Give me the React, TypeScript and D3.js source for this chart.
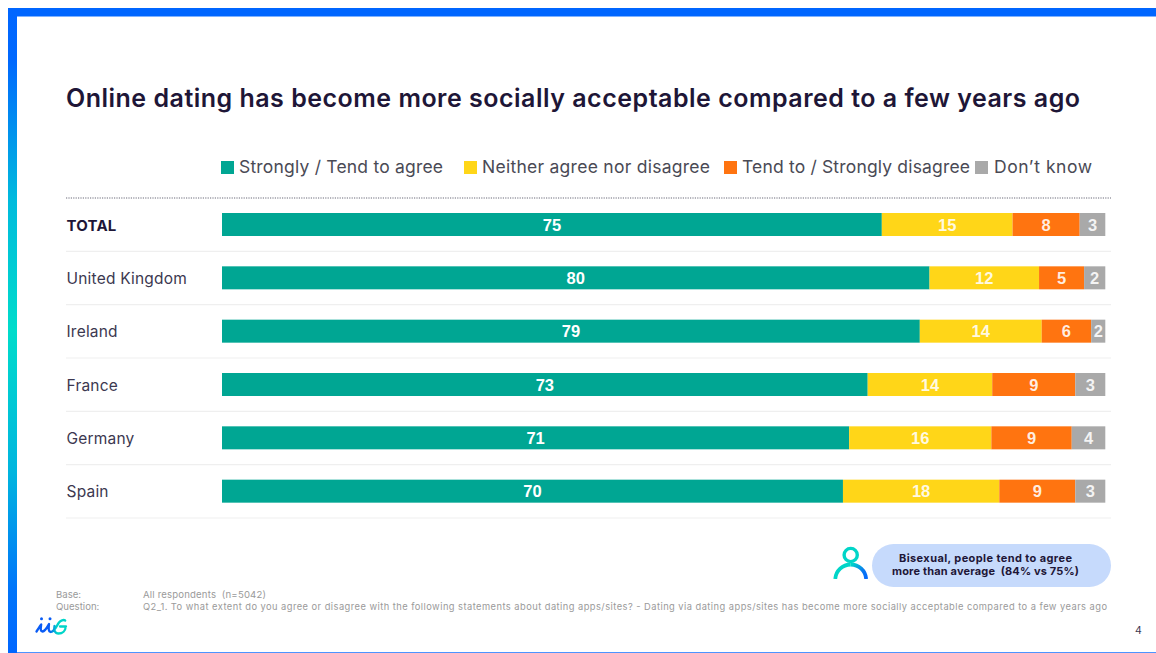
import React from "react";
import * as d3 from "d3";

const WIDTH = 1156;
const HEIGHT = 653;

// Survey results, one list per country, in answer order
const rowNames = ["TOTAL", "United Kingdom", "Ireland", "France", "Germany", "Spain"];
const agree = [74.7, 80.1, 79.0, 73.1, 71.0, 70.3];
const neither = [14.8, 12.4, 13.8, 14.1, 16.1, 17.7];
const disagree = [7.6, 5.1, 5.6, 9.4, 9.1, 8.6];
const dontKnow = [2.9, 2.4, 1.6, 3.4, 3.8, 3.4];

const seriesKeys = ["agree", "neither", "disagree", "dontKnow"];
const seriesLabels = ["Strongly / Tend to agree", "Neither agree nor disagree", "Tend to / Strongly disagree", "Don\u2019t know"];
const seriesColors = ["#00A693", "#FFD618", "#FF7410", "#A9A9A9"];

const titleText = "Online dating has become more socially acceptable compared to a few years ago";
const calloutLines = ["Bisexual, people tend to agree", "more than average  (84% vs 75%)"];
const baseText = "All respondents  (n=5042)";
const questionText =
  "Q2_1. To what extent do you agree or disagree with the following statements about dating apps/sites? - Dating via dating apps/sites has become more socially acceptable compared to a few years ago";

const UI_FONT = "Inter, 'Open Sans', sans-serif";
const VALUE_FONT = "'Liberation Sans', Arial, sans-serif";
const INK = "#1E1637";

// Legend swatch and label extents along the header row
const legendLayout = [
  { swatch: 221, text: 239, width: 204 },
  { swatch: 464, text: 482, width: 228 },
  { swatch: 724, text: 742, width: 228 },
  { swatch: 975, text: 994, width: 98 },
];

// Rendered widths of the two callout lines
const calloutWidths = [173, 187];

const tableRows = rowNames.map((name, i) => ({
  name,
  agree: agree[i],
  neither: neither[i],
  disagree: disagree[i],
  dontKnow: dontKnow[i],
}));

export default function App() {
  const x = d3.scaleLinear().domain([0, 100]).range([222, 1105.3]);
  const y = d3.scaleBand().domain(rowNames).range([198, 518]);
  const stacked = d3.stack().keys(seriesKeys)(tableRows as any);
  const barOffset = 15;
  const barHeight = 23;

  const shoulder = d3.arc();
  const bodyArc = (start: number, end: number) =>
    shoulder({ innerRadius: 15.5, outerRadius: 15.5, startAngle: start, endAngle: end }) as string;

  return (
    <svg
      width={WIDTH}
      height={HEIGHT}
      viewBox={`0 0 ${WIDTH} ${HEIGHT}`}
      style={{ position: "absolute", left: 0, top: 0, display: "block", background: "#fff" }}
    >
      <defs>
        <linearGradient id="edge" x1="0" y1="0" x2="0" y2="1">
          <stop offset="0" stopColor="#0066FF" />
          <stop offset="0.08" stopColor="#0068FE" />
          <stop offset="0.3" stopColor="#00BBDD" />
          <stop offset="0.5" stopColor="#00DCCB" />
          <stop offset="0.72" stopColor="#00B5DF" />
          <stop offset="0.9" stopColor="#0075FA" />
          <stop offset="1" stopColor="#0066FF" />
        </linearGradient>
        <linearGradient id="logoStroke" gradientUnits="userSpaceOnUse" x1="36" y1="0" x2="66" y2="0">
          <stop offset="0" stopColor="#0A5CF5" />
          <stop offset="0.45" stopColor="#0A5CF5" />
          <stop offset="0.7" stopColor="#00D5C8" />
          <stop offset="1" stopColor="#00D5C8" />
        </linearGradient>
        <linearGradient id="shoulderRight" gradientUnits="userSpaceOnUse" x1="0" y1="-15" x2="15" y2="0">
          <stop offset="0" stopColor="#00D5C8" />
          <stop offset="0.6" stopColor="#0A78F0" />
          <stop offset="1" stopColor="#0066FF" />
        </linearGradient>
      </defs>

      {/* Slide frame */}
      <rect x={8} y={8} width={WIDTH - 8} height={8.5} fill="#0066FF" />
      <rect x={8} y={8} width={9} height={HEIGHT - 8} fill="url(#edge)" />
      <rect x={17} y={652} width={WIDTH - 17} height={1} fill="#4D94FF" />

      <text x={66} y={107} fontFamily={UI_FONT} fontSize={25} fontWeight={600} fill={INK} textLength={1014} lengthAdjust="spacing">
        {titleText}
      </text>

      {/* Legend */}
      {seriesLabels.map((label, i) => (
        <g key={label}>
          <rect x={legendLayout[i].swatch} y={161} width={13} height={13} fill={seriesColors[i]} />
          <text x={legendLayout[i].text} y={173} fontFamily={UI_FONT} fontSize={17.5} fill="#4A4A55" textLength={legendLayout[i].width} lengthAdjust="spacing">
            {label}
          </text>
        </g>
      ))}

      {/* Header rule and row separators */}
      <line x1={66} x2={1111} y1={198} y2={198} stroke="#6A6A78" strokeWidth={1.2} strokeDasharray="1.2 1.2" />
      {rowNames.map((name) => (
        <line key={name} x1={66} x2={1111} y1={y(name)! + y.bandwidth()} y2={y(name)! + y.bandwidth()} stroke="#EFEFEF" strokeWidth={1.2} />
      ))}

      {/* Row labels */}
      {rowNames.map((name, i) => (
        <text
          key={name}
          x={66.5}
          y={y(name)! + barOffset + barHeight / 2 + 6}
          fontFamily={UI_FONT}
          fontSize={i === 0 ? 15 : 15.5}
          fontWeight={i === 0 ? 700 : 400}
          letterSpacing={0.2}
          fill={i === 0 ? INK : "#3C3850"}
        >
          {name}
        </text>
      ))}

      {/* Stacked bars with rounded value labels */}
      {stacked.map((layer, s) => (
        <g key={layer.key}>
          {layer.map((seg, r) => (
            <g key={rowNames[r]}>
              <rect
                x={x(seg[0])}
                y={y(rowNames[r])! + barOffset}
                width={x(seg[1]) - x(seg[0])}
                height={barHeight}
                fill={seriesColors[s]}
              />
              <text
                x={(x(seg[0]) + x(seg[1])) / 2}
                y={y(rowNames[r])! + barOffset + barHeight / 2 + 6}
                textAnchor="middle"
                fontFamily={VALUE_FONT}
                fontSize={16.5}
                fontWeight={700}
                fill="#FFFFFF"
                fillOpacity={s === 0 ? 1 : 0.88}
              >
                {d3.format(".0f")(seg[1] - seg[0])}
              </text>
            </g>
          ))}
        </g>
      ))}

      {/* Callout with person icon */}
      <circle cx={850.7} cy={555} r={6.6} fill="none" stroke="#00D5C8" strokeWidth={3.4} />
      <g transform="translate(850.7,580)" fill="none" strokeWidth={3.8} strokeLinecap="round">
        <path d={bodyArc(-1.5, 0)} stroke="#00D5C8" />
        <path d={bodyArc(0, 1.5)} stroke="url(#shoulderRight)" />
      </g>
      <rect x={872} y={544} width={239} height={43} rx={21.5} fill="#C6DAFC" />
      {calloutLines.map((line, i) => (
        <text
          key={line}
          x={985.5 - calloutWidths[i] / 2}
          y={562 + i * 13}
          fontFamily={UI_FONT}
          fontSize={11}
          fontWeight={700}
          fill={INK}
          xmlSpace="preserve"
          textLength={calloutWidths[i]}
          lengthAdjust="spacing"
        >
          {line}
        </text>
      ))}

      {/* Footnotes */}
      <g fontFamily={UI_FONT} fontSize={9.6} fill="#9A9A9A">
        <text x={56} y={598}>Base:</text>
        <text x={56} y={609.5}>Question:</text>
        <text x={143} y={598} xmlSpace="preserve" textLength={123} lengthAdjust="spacing">{baseText}</text>
        <text x={143} y={609.5} fontSize={9.3} textLength={964} lengthAdjust="spacing">{questionText}</text>
      </g>

      {/* Brand mark */}
      <g fill="none" stroke="url(#logoStroke)" strokeWidth={2.3} strokeLinecap="round" strokeLinejoin="round">
        <path d="M36.5 631.5 C38.5 628.5 40 626 41.2 624.5 C40.8 627.5 40 631.5 42.5 631.5 C45.5 631 47.5 626.5 49 624 C48.6 627.5 48 632 51 632 C55 631 56.5 626 59 622.5 C60.5 620.5 63.5 619.3 65.2 620.5 M66 626.5 L60 626.5 M65.8 626.5 C65.5 630.8 62.5 633.5 58.5 633.5 C55 633.5 53.5 630 54.5 626" />
      </g>
      <circle cx={41.5} cy={618.8} r={1.5} fill="#0A5CF5" />
      <circle cx={50} cy={618.8} r={1.5} fill="#0A5CF5" />

      <text x={1135} y={634} fontFamily={UI_FONT} fontSize={10.5} fill="#3C3850">4</text>
    </svg>
  );
}
